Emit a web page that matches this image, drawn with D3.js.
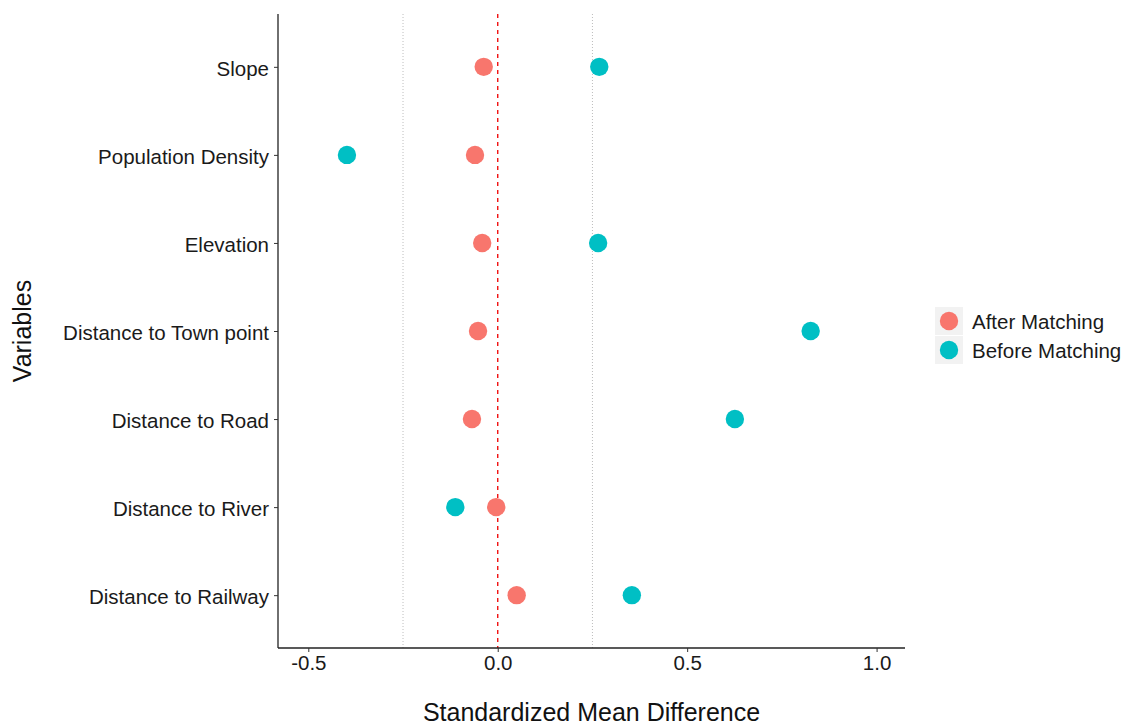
<!DOCTYPE html>
<html>
<head>
<meta charset="utf-8">
<script src="https://cdn.jsdelivr.net/npm/d3@7"></script>
<style>
  body { margin: 0; background: #fff; }
  svg text { font-family: "Liberation Sans", Arial, sans-serif; }
</style>
</head>
<body>
<div id="chart"></div>
<script>
// variables, top to bottom
const variables = ["Slope", "Population Density", "Elevation", "Distance to Town point",
  "Distance to Road", "Distance to River", "Distance to Railway"];
const afterMatching = [-0.037, -0.060, -0.041, -0.052, -0.068, -0.004, 0.050];
const beforeMatching = [0.268, -0.398, 0.265, 0.826, 0.626, -0.112, 0.354];
const xTicks = [-0.5, 0.0, 0.5, 1.0];
const seriesNames = ["After Matching", "Before Matching"];
const seriesColors = ["#F8766D", "#00BFC4"];
const refLines = [-0.25, 0.25];

const W = 1136, H = 727;
const margin = { top: 14, right: 231, bottom: 79, left: 278 };
const width = W - margin.left - margin.right;
const height = H - margin.top - margin.bottom;

const svg = d3.select('#chart').append('svg')
  .attr('width', W).attr('height', H);
const g = svg.append('g').attr('transform', `translate(${margin.left},${margin.top})`);

const x = d3.scaleLinear().domain([-0.58, 1.075]).range([0, width]);
const y = d3.scalePoint().domain(variables).range([0, height]).padding(0.6);

// reference lines
g.selectAll('.ref').data(refLines).enter().append('line')
  .attr('x1', d => x(d)).attr('x2', d => x(d))
  .attr('y1', 0).attr('y2', height)
  .attr('stroke', '#bdbdbd').attr('stroke-width', 1)
  .attr('stroke-dasharray', '1,2');
g.append('line')
  .attr('x1', x(0)).attr('x2', x(0)).attr('y1', 0).attr('y2', height)
  .attr('stroke', '#f01010').attr('stroke-width', 1.4)
  .attr('stroke-dasharray', '4,4');

// axes
const fmt = d => d.toFixed(1); // plain hyphen minus like R
const xAxis = g.append('g').attr('transform', `translate(0,${height})`)
  .call(d3.axisBottom(x).tickValues(xTicks).tickFormat(fmt).tickSizeOuter(0).tickSize(4).tickPadding(3));
const yAxis = g.append('g')
  .call(d3.axisLeft(y).tickSizeOuter(0).tickSize(4).tickPadding(5));
[xAxis, yAxis].forEach(a => {
  a.select('.domain').attr('stroke', '#222').attr('stroke-width', 1.3);
  a.selectAll('.tick line').attr('stroke', '#333');
  a.selectAll('.tick text').attr('fill', '#1a1a1a').style('font-size', '20.5px');
});
xAxis.select('.domain').attr('d', `M0,0H${width}`);
yAxis.select('.domain').attr('d', `M0,0V${height}`);
xAxis.selectAll('.tick text').attr('dy', '0.75em');
yAxis.selectAll('.tick text').attr('dy', '0.42em');

// points
const series = [afterMatching, beforeMatching];
series.forEach((vals, si) => {
  g.selectAll('.pt' + si).data(vals).enter().append('circle')
    .attr('cx', d => x(d))
    .attr('cy', (d, i) => y(variables[i]))
    .attr('r', 9.2)
    .attr('fill', seriesColors[si]);
});

// axis titles
svg.append('text')
  .attr('x', margin.left + width / 2).attr('y', 721)
  .attr('text-anchor', 'middle').attr('fill', '#111')
  .style('font-size', '25px').text('Standardized Mean Difference');
svg.append('text')
  .attr('transform', `translate(31,${margin.top + height / 2}) rotate(-90)`)
  .attr('text-anchor', 'middle').attr('fill', '#111')
  .style('font-size', '25px').text('Variables');

// legend
const legend = svg.append('g').attr('transform', 'translate(935,307)');
seriesNames.forEach((name, i) => {
  const row = legend.append('g').attr('transform', `translate(0,${i * 29})`);
  row.append('rect').attr('width', 28).attr('height', 28).attr('fill', '#f2f2f2');
  row.append('circle').attr('cx', 14).attr('cy', 14).attr('r', 9.2).attr('fill', seriesColors[i]);
  row.append('text').attr('x', 37).attr('y', 15).attr('dy', '0.35em')
    .attr('fill', '#1a1a1a').style('font-size', '20.5px').text(name);
});
</script>
</body>
</html>
